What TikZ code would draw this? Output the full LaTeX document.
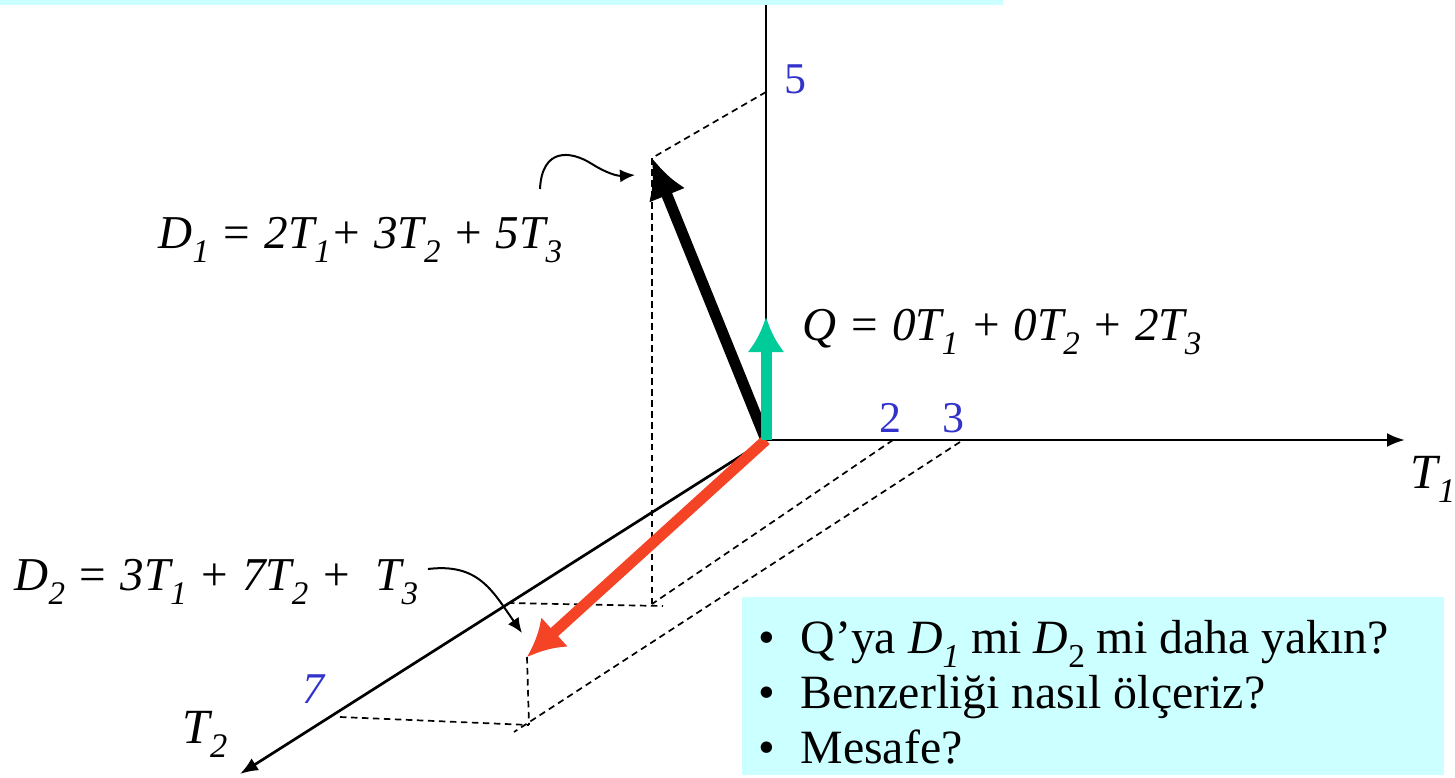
\documentclass[tikz,border=0pt]{standalone}
\usepackage{fontspec}
\usepackage{graphicx}
\setmainfont{Liberation Serif}
\usetikzlibrary{arrows.meta}
\definecolor{QGreen}{HTML}{00CC99}
\definecolor{DRed}{HTML}{F44325}
\definecolor{TickBlue}{HTML}{3333CC}
\definecolor{BoxCyan}{HTML}{CCFFFF}
\newcommand{\sbs}[1]{\raisebox{-.3em}{\scalebox{.7}{#1}}}

\tikzset{
  axis/.style={line width=.27mm,-{Latex[length=1.8mm,width=1.4mm]}},
  guide/.style={line width=.17mm,dash pattern=on .65mm off .45mm},
  vec/.style={line width=1.1mm},
  pointer/.style={line width=.2mm,-{Latex[length=1.5mm,width=1.3mm]}},
  eqlabel/.style={font=\fontsize{13.4}{15}\selectfont\itshape,inner sep=0pt,anchor=base west},
  ticklabel/.style={font=\fontsize{12.5}{14}\selectfont,text=TickBlue,inner sep=0pt,anchor=base},
  axlabel/.style={font=\fontsize{14}{16}\selectfont\itshape,inner sep=0pt,anchor=base west},
  bullet/.style={font=\fontsize{13.6}{16}\selectfont,inner sep=0pt,anchor=base west},
}

\begin{document}
\begin{tikzpicture}[x=0.1mm,y=-0.1mm]
\useasboundingbox (0,0) rectangle (1455,778);
\fill[BoxCyan] (0,0) rectangle (1003,5);

% eksenler
\coordinate (O) at (766,440);
\coordinate (T3end) at (766,5);
\coordinate (T1end) at (1405,440);
\coordinate (T2end) at (240,774);
\draw[line width=.27mm] (O) -- (T3end);
\draw[axis] (O) -- (T1end);
\draw[axis] (O) -- (T2end);
\node[axlabel] (t1) at (1410,488) {T\sbs{1}};
\node[axlabel] (t2) at (182,743) {T\sbs{2}};

% izdusum noktalari
\coordinate (p5) at (766,92);
\coordinate (p2) at (893,440);
\coordinate (p3) at (960,442);
\coordinate (p7) at (340,717);
\coordinate (p3end) at (514,732);
\coordinate (h1a) at (508,603);
\coordinate (h1b) at (663,606);
\coordinate (d1) at (652,158);
\coordinate (d1f) at (652,604);
\coordinate (d2) at (527,657);
\coordinate (d2f) at (529,725);
\coordinate (q) at (766,317);

% kesikli cizgiler
\draw[guide] (p5) -- (d1);
\draw[guide] (d1) -- (d1f);
\draw[guide] (h1a) -- (h1b);
\draw[guide] (p2) -- (d1f);
\draw[guide] (p3) -- (p3end);
\draw[guide] (d2) -- (d2f);
\draw[guide] (p7) -- (d2f);

% vektorler
\draw[vec,-{Latex[length=4mm,width=3.9mm]}] (O) -- (d1);
\draw[vec,DRed,-{Latex[length=3.7mm,width=4mm]}] (O) -- (d2);
\draw[vec,QGreen,-{Latex[length=3.5mm,width=3.7mm]}] (O) -- (q);

% degerler
\node[ticklabel] (n5) at (795,93) {5};
\node[ticklabel] (n2) at (890,432) {2};
\node[ticklabel] (n3) at (953,432) {3};
\node[ticklabel,font=\fontsize{12.5}{14}\selectfont\itshape] (n7) at (313,703) {7};

% denklemler
\node[eqlabel] (lblD1) at (158,248) {D\sbs{1} = 2T\sbs{1}+ 3T\sbs{2} + 5T\sbs{3}};
\node[eqlabel] (lblQ) at (802,340) {Q = 0T\sbs{1} + 0T\sbs{2} + 2T\sbs{3}};
\node[eqlabel] (lblD2) at (14,590) {D\sbs{2} = 3T\sbs{1} + 7T\sbs{2} +\ \ T\sbs{3}};

\coordinate (ptrA) at (540,189);
\coordinate (ptrAend) at (635,175);
\coordinate (ptrB) at (428,569);
\coordinate (ptrBend) at (522,633);
\draw[pointer] (ptrA) .. controls (542,148) and (570,150) .. (592,164) .. controls (608,174) and (618,176) .. (ptrAend);
\draw[pointer] (ptrB) .. controls (478,563) and (492,590) .. (ptrBend);

% soru kutusu
\node[fill=BoxCyan,anchor=north west,inner sep=0pt,minimum width=70.2mm,minimum height=17.8mm] (qbox) at (741,596) {};
\node[bullet] (s1) at (758,653) {\makebox[4.2mm][l]{\textbullet}Q'ya \textit{D\sbs{1}} mi \textit{D}\sbs{2} mi daha yakın?};
\node[bullet] (s2) at (758,708) {\makebox[4.2mm][l]{\textbullet}Benzerliği nasıl ölçeriz?};
\node[bullet] (s3) at (758,763) {\makebox[4.2mm][l]{\textbullet}Mesafe?};
\end{tikzpicture}
\end{document}
